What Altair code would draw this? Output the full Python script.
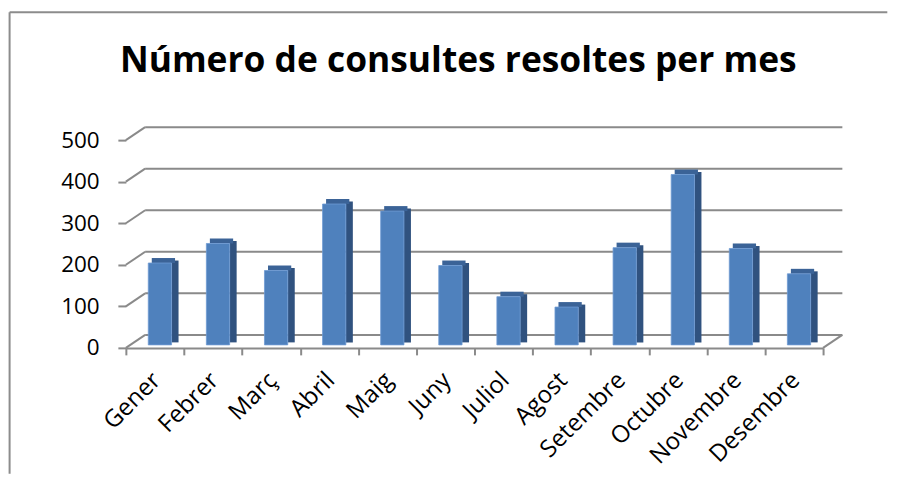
import altair as alt
import pandas as pd

months = ["Gener", "Febrer", "Març", "Abril", "Maig", "Juny", "Juliol",
          "Agost", "Setembre", "Octubre", "Novembre", "Desembre"]
values = [197, 244, 179, 339, 322, 191, 116, 91, 234, 410, 232, 171]
y_ticks = [0, 100, 200, 300, 400, 500]
title_text = "Número de consultes resoltes per mes"

W = 698
H = 208
FONT = "Open Sans"
GRID = "#8a8a8a"
FRONT = "#4f81bd"
TOP = "#3b6397"
SIDE = "#30527f"
DEPTH_X = 19.3
DEPTH_Y = -13

df = pd.DataFrame({"mes": months, "v": values, "zero": [0] * len(months)})
grid_df = pd.DataFrame({"g": y_ticks})
one = pd.DataFrame({"t": [title_text]})

xscale = alt.Scale(domain=months, paddingInner=0, paddingOuter=0)
yscale = alt.Scale(domain=[0, 500], nice=False)

x_axis = alt.Axis(title=None, labelAngle=-45, labelFont=FONT, labelFontSize=24,
                  labelColor="black", labelOffset=-7, labelPadding=13,
                  tickBand="extent", tickSize=7, tickColor=GRID, tickWidth=2,
                  domainColor=GRID, domainWidth=2, grid=False)
y_axis = alt.Axis(title=None, values=y_ticks, labelFont=FONT, labelFontSize=22.5,
                  labelColor="black", labelPadding=18.7, tickSize=8,
                  tickColor=GRID, tickWidth=2, domain=False, grid=False)

x_enc = alt.X("mes:N", sort=months, scale=xscale, axis=x_axis)


def yq(field):
    return alt.Y(field, scale=yscale, axis=y_axis)


back_grid = alt.Chart(grid_df).mark_rule(color=GRID, strokeWidth=2, yOffset=DEPTH_Y).encode(
    x=alt.value(DEPTH_X), x2=alt.value(W + DEPTH_X), y=yq("g:Q"))

left_diag = alt.Chart(grid_df).mark_rule(color=GRID, strokeWidth=2, y2Offset=DEPTH_Y).encode(
    x=alt.value(0), x2=alt.value(DEPTH_X), y=yq("g:Q"), y2=alt.Y2("g:Q"))

right_diag = alt.Chart(grid_df).transform_filter(alt.datum.g == 0).mark_rule(
    color=GRID, strokeWidth=2, y2Offset=DEPTH_Y).encode(
    x=alt.value(W), x2=alt.value(W + DEPTH_X), y=yq("g:Q"), y2=alt.Y2("g:Q"))

side = alt.Chart(df).mark_bar(color=SIDE, width=7, xOffset=20.15,
                              yOffset=-5.5, y2Offset=-5.5).encode(
    x=x_enc, y=yq("v:Q"), y2=alt.Y2("zero:Q"))

top = alt.Chart(df).mark_bar(color=TOP, width=23.3, xOffset=8.5,
                             yOffset=-8, y2Offset=-3).encode(
    x=x_enc, y=yq("v:Q"), y2=alt.Y2("v:Q"))

front = alt.Chart(df).mark_bar(color=FRONT, width=23.3, xOffset=5,
                               yOffset=-3, y2Offset=-3,
                               stroke="#6e9bd3", strokeWidth=0.8).encode(
    x=x_enc, y=yq("v:Q"), y2=alt.Y2("zero:Q"))

title = alt.Chart(one).mark_text(font=FONT, fontSize=35.4, fontWeight="bold",
                                 align="center", baseline="alphabetic",
                                 color="black").encode(
    x=alt.value(332.8), y=alt.value(-68.3), text="t:N")

border_top = alt.Chart(one).mark_rule(color="#8c8c8c", strokeWidth=2).encode(
    x=alt.value(-116.4), x2=alt.value(762.3), y=alt.value(-128))
border_left = alt.Chart(one).mark_rule(color="#8c8c8c", strokeWidth=2).encode(
    x=alt.value(-116.4), y=alt.value(-128), y2=alt.value(334))

chart = alt.layer(
    back_grid, left_diag, right_diag, side, top, front, title, border_top, border_left
).properties(
    width=W, height=H,
    padding={"left": 0, "top": 3, "right": 0, "bottom": 0}
).configure_view(stroke=None)

chart.save("out.html", embed_options={"renderer": "svg", "actions": False})
